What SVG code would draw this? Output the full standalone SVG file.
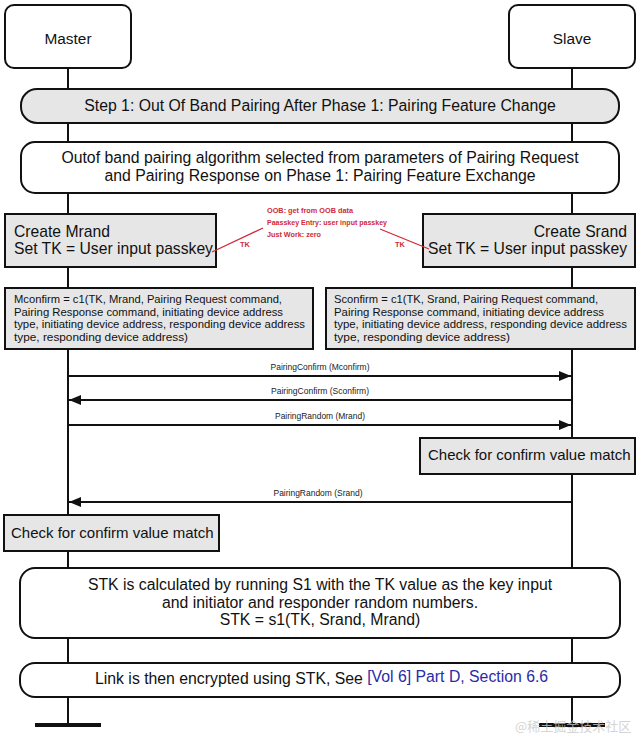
<svg xmlns="http://www.w3.org/2000/svg" width="640" height="738" viewBox="0 0 640 738">
<style>
.t{font-family:"Liberation Sans",Arial,sans-serif;fill:#111}
.L{font-size:15.8px}
.b{stroke:#111;stroke-width:2}
.w{fill:#fff}
.g{fill:#e6e6e6}
.msg{font-family:"Liberation Sans",Arial,sans-serif;font-size:9px;fill:#222;text-anchor:middle}
.red{font-family:"Liberation Sans",Arial,sans-serif;font-size:7.4px;font-weight:bold;fill:#d02a38}
.ln{stroke:#111;stroke-width:2;fill:none}
</style>
<defs>
<marker id="ah" viewBox="0 0 12 10" refX="12" refY="5" markerWidth="12" markerHeight="10" markerUnits="userSpaceOnUse" orient="auto">
<path d="M0,0 L12,5 L0,10 Z" fill="#111"/>
</marker>
</defs>
<rect width="640" height="738" fill="#fff"/>
<g id="lifelines">
<line class="ln" x1="68" y1="67" x2="68" y2="725"/>
<line class="ln" x1="572" y1="67" x2="572" y2="725"/>
<line x1="35" y1="725" x2="101" y2="725" stroke="#111" stroke-width="4"/>
<line x1="539" y1="725" x2="605" y2="725" stroke="#111" stroke-width="4"/>
</g>
<g id="master">
<rect class="b w" x="5" y="5" width="126" height="63" rx="9"/>
<text class="t" x="68" y="44" font-size="15.4" text-anchor="middle">Master</text>
</g>
<g id="slave">
<rect class="b w" x="509" y="5" width="126" height="63" rx="9"/>
<text class="t" x="572" y="44" font-size="15.4" text-anchor="middle">Slave</text>
</g>
<g id="step1">
<rect class="b g" x="21" y="89" width="598" height="34" rx="16"/>
<text class="t L" x="320" y="111" text-anchor="middle">Step 1: Out Of Band Pairing After Phase 1: Pairing Feature Change</text>
</g>
<g id="outof">
<rect class="b w" x="21" y="142" width="598" height="51" rx="14"/>
<text class="t L" x="320" y="163" text-anchor="middle">Outof band pairing algorithm selected from parameters of Pairing Request</text>
<text class="t L" x="320" y="181" text-anchor="middle">and Pairing Response on Phase 1: Pairing Feature Exchange</text>
</g>
<g id="create-mrand">
<rect class="b g" x="5" y="214" width="211" height="53"/>
<text class="t" x="14" y="237" font-size="15.7">Create Mrand</text>
<text class="t" x="14" y="254" font-size="15.7">Set TK = User input passkey</text>
</g>
<g id="create-srand">
<rect class="b g" x="423" y="214" width="212" height="53"/>
<text class="t" x="627" y="237" font-size="15.7" text-anchor="end">Create Srand</text>
<text class="t" x="627" y="254" font-size="15.7" text-anchor="end">Set TK = User input passkey</text>
</g>
<g id="tk-note">
<line x1="212" y1="252" x2="263" y2="228" stroke="#d02a38" stroke-width="1.3"/>
<line x1="380" y1="229" x2="429" y2="249" stroke="#d02a38" stroke-width="1.3"/>
<text class="red" x="267" y="213" textLength="86" lengthAdjust="spacingAndGlyphs">OOB: get from OOB data</text>
<text class="red" x="267" y="225" textLength="120" lengthAdjust="spacingAndGlyphs">Paasskey Entry: user input passkey</text>
<text class="red" x="267" y="237" textLength="54" lengthAdjust="spacingAndGlyphs">Just Work: zero</text>
<text class="red" x="240" y="247">TK</text>
<text class="red" x="395" y="247">TK</text>
</g>
<g id="mconfirm">
<rect class="b g" x="5" y="288" width="308" height="61"/>
<text class="t" x="14" y="303" font-size="11.5" textLength="268" lengthAdjust="spacingAndGlyphs">Mconfirm = c1(TK, Mrand, Pairing Request command,</text>
<text class="t" x="14" y="315.5" font-size="11.5" textLength="269" lengthAdjust="spacingAndGlyphs">Pairing Response command, initiating device address</text>
<text class="t" x="14" y="328" font-size="11.5" textLength="291" lengthAdjust="spacingAndGlyphs">type, initiating device address, responding device address</text>
<text class="t" x="14" y="340.5" font-size="11.5" textLength="174" lengthAdjust="spacingAndGlyphs">type, responding device address)</text>
</g>
<g id="sconfirm">
<rect class="b g" x="326" y="288" width="309" height="61"/>
<text class="t" x="334" y="303" font-size="11.5" textLength="264" lengthAdjust="spacingAndGlyphs">Sconfirm = c1(TK, Srand, Pairing Request command,</text>
<text class="t" x="334" y="315.5" font-size="11.5" textLength="270" lengthAdjust="spacingAndGlyphs">Pairing Response command, initiating device address</text>
<text class="t" x="334" y="328" font-size="11.5" textLength="293" lengthAdjust="spacingAndGlyphs">type, initiating device address, responding device address</text>
<text class="t" x="334" y="340.5" font-size="11.5" textLength="176" lengthAdjust="spacingAndGlyphs">type, responding device address)</text>
</g>
<g id="connectors">
<line class="ln" x1="68" y1="376" x2="571" y2="376" marker-end="url(#ah)"/>
<text class="msg" x="320" y="370" textLength="99" lengthAdjust="spacingAndGlyphs">PairingConfirm (Mconfirm)</text>
<line class="ln" x1="572" y1="400" x2="69" y2="400" marker-end="url(#ah)"/>
<text class="msg" x="320" y="394" textLength="98" lengthAdjust="spacingAndGlyphs">PairingConfirm (Sconfirm)</text>
<line class="ln" x1="68" y1="425" x2="571" y2="425" marker-end="url(#ah)"/>
<text class="msg" x="320" y="419" textLength="90" lengthAdjust="spacingAndGlyphs">PairingRandom (Mrand)</text>
<line class="ln" x1="572" y1="502" x2="69" y2="502" marker-end="url(#ah)"/>
<text class="msg" x="318" y="496" textLength="89" lengthAdjust="spacingAndGlyphs">PairingRandom (Srand)</text>
</g>
<g id="check-slave">
<rect class="b g" x="420" y="438" width="215" height="36"/>
<text class="t" x="428" y="460" font-size="15">Check for confirm value match</text>
</g>
<g id="check-master">
<rect class="b g" x="4" y="515" width="215" height="36"/>
<text class="t" x="11" y="538" font-size="15">Check for confirm value match</text>
</g>
<g id="stk">
<rect class="b w" x="20" y="568" width="600" height="70" rx="15"/>
<text class="t L" x="320" y="590" text-anchor="middle">STK is calculated by running S1 with the TK value as the key input</text>
<text class="t L" x="320" y="607.5" text-anchor="middle">and initiator and responder random numbers.</text>
<text class="t L" x="320" y="625" text-anchor="middle">STK = s1(TK, Srand, Mrand)</text>
</g>
<g id="link">
<rect class="b w" x="20" y="663" width="600" height="34" rx="15"/>
<text class="t L" x="95" y="684">Link is then encrypted using STK, See <tspan fill="#2b2ba8" dy="-2">[Vol 6] Part D, Section 6.6</tspan></text>
</g>
<text x="515" y="731" font-family="'Noto Sans CJK SC',sans-serif" font-size="13" fill="#c8c8c8" fill-opacity="0.8">@稀土掘金技术社区</text>
</svg>
